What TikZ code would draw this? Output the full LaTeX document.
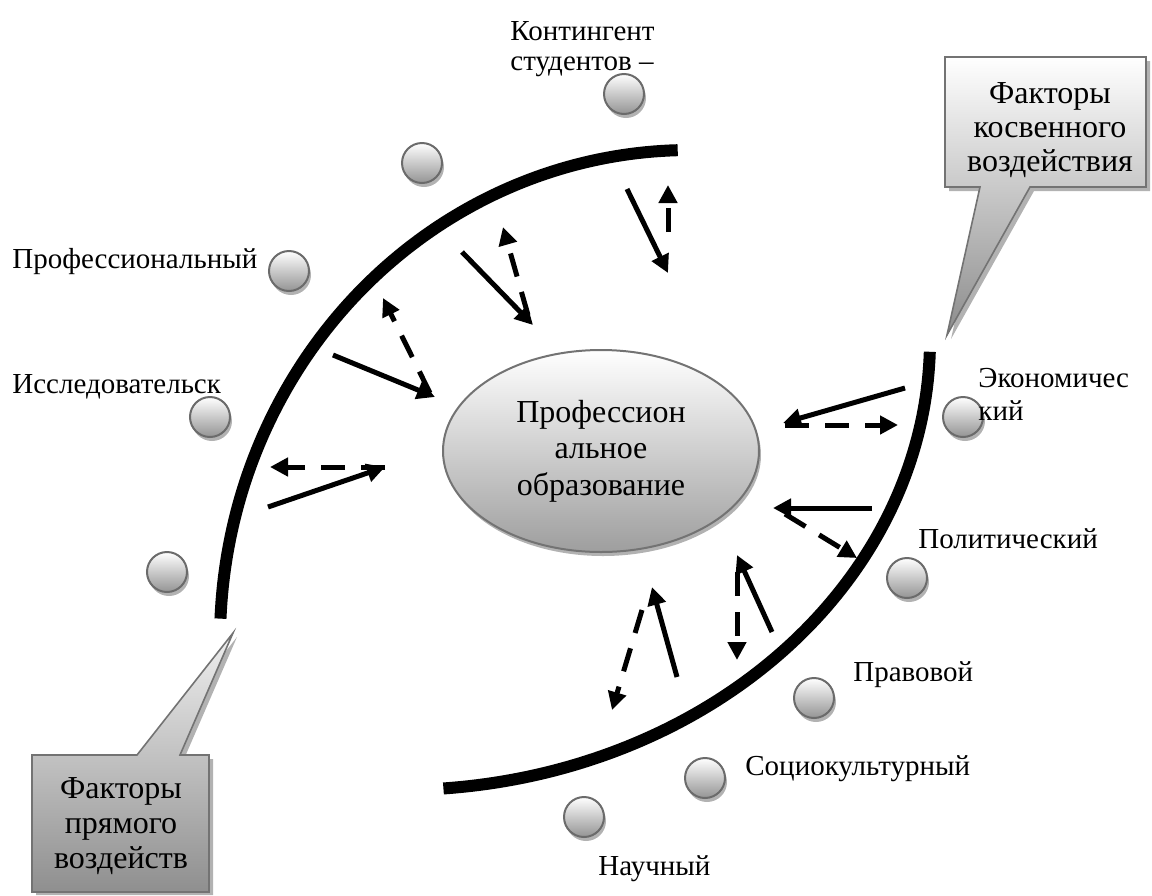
\documentclass[tikz,border=0pt]{standalone}
\usepackage{fontspec}
\setmainfont{Liberation Serif}
\usetikzlibrary{arrows.meta,shadows,shapes.geometric}
\begin{document}
\begin{tikzpicture}[x=0.5pt,y=-0.5pt,
  lbl/.style={font=\fontsize{14.5}{16.5}\selectfont, inner sep=0pt, anchor=base west, align=left},
  big/.style={font=\fontsize{16}{17.5}\selectfont, inner sep=0pt, align=center},
  ball/.style={circle, minimum size=20pt, inner sep=0pt, draw=black!58, line width=1pt,
    top color=white, bottom color=black!42,
    drop shadow={shadow xshift=1pt, shadow yshift=-2pt, fill=black!30, opacity=1}},
  arc/.style={line width=6pt},
  arr/.style={line width=2.5pt, -{Triangle[length=9pt,width=9pt]}},
  darr/.style={arr, dash pattern=on 12pt off 8pt},
  callout/.style={draw=black!55, line width=0.8pt}
]
\useasboundingbox (0,0) rectangle (1152,895);

% big arcs
\draw[arc] plot[domain=182.5:268.5, samples=90] ({690+470*cos(\x)},{640+490*sin(\x)});
\draw[arc] plot[domain=1.5:85.3, samples=90] ({400+530*cos(\x)},{340+450*sin(\x)});

% central ellipse
\node[ellipse, minimum width=158pt, minimum height=101pt, inner sep=0pt,
  draw=black!55, line width=1pt, top color=white, bottom color=black!38,
  drop shadow={shadow xshift=1pt, shadow yshift=-2pt, fill=black!30, opacity=1},
  big, font=\fontsize{16}{18.25}\selectfont] (edu) at (601,451) {Профессион\\альное\\образование};

% balls
\node[ball] (b1) at (624,94) {};
\node[ball] (b2) at (422,163) {};
\node[ball] (b3) at (289,271) {};
\node[ball] (b4) at (210,417) {};
\node[ball] (b5) at (167,572) {};
\node[ball] (b6) at (963,417) {};
\node[ball] (b7) at (907,578) {};
\node[ball] (b8) at (814,698) {};
\node[ball] (b9) at (705,778) {};
\node[ball] (b10) at (584,817) {};

% labels (base anchor = baseline of the last line)
\node[lbl, font=\fontsize{14.5}{15}\selectfont] (l1) at (510,70) {Контингент\\студентов –};
\node[lbl] (l2) at (12,268) {Профессиональный};
\node[lbl] (l3) at (12,393) {Исследовательск};
\node[lbl] (l4) at (978,420) {Экономичес\\кий};
\node[lbl] (l5) at (918,548) {Политический};
\node[lbl] (l6) at (853,681) {Правовой};
\node[lbl] (l7) at (745,775) {Социокультурный};
\node[lbl] (l8) at (598,875) {Научный};

% arrows
\draw[arr]  (462,252) -- (533,325);
\draw[darr] (528,315) -- (503,227);
\draw[arr]  (333,355) -- (435,397);
\draw[darr] (430,393) -- (383,298);
\draw[arr]  (268,507) -- (385,467);
\draw[darr] (385,467) -- (270,467);
\draw[arr]  (627,189) -- (668,273);
\draw[darr] (668,232) -- (668,185);
\draw[arr]  (905,388) -- (783,423);
\draw[darr] (785,425) -- (898,425);
\draw[arr]  (872,508) -- (773,508);
\draw[darr] (785,514) -- (857,558);
\draw[arr]  (772,632) -- (737,555);
\draw[darr] (737,572) -- (737,660);
\draw[arr]  (677,677) -- (652,587);
\draw[darr] (642,610) -- (612,710);

% top callout
\fill[black!30] (949,61) -- (1150,61) -- (1150,191) -- (1034,191) -- (951,339) -- (984,191) -- (949,191) -- cycle;
\shadedraw[callout, top color=white, middle color=black!14, bottom color=black!45]
  (945,57) -- (1146,57) -- (1146,187) -- (1030,187) -- (947,335) -- (980,187) -- (945,187) -- cycle;
\node[big, font=\fontsize{16}{17}\selectfont] (t1) at (1050,130) {Факторы\\косвенного\\воздействия};

% bottom callout
\fill[black!30] (36,759) -- (141,759) -- (237,637) -- (184,759) -- (213,759) -- (213,895) -- (36,895) -- cycle;
\shadedraw[callout, top color=black!6, middle color=black!26, bottom color=black!44]
  (32,755) -- (137,755) -- (233,633) -- (180,755) -- (209,755) -- (209,892) -- (32,892) -- cycle;
\node[big] (t2) at (121,826) {Факторы\\прямого\\воздейств};
\end{tikzpicture}
\end{document}
